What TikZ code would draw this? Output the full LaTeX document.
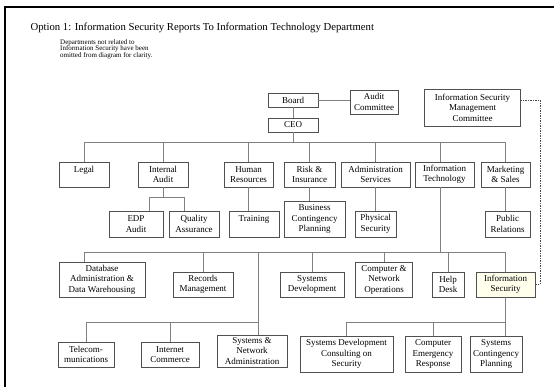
\documentclass[tikz,border=0pt]{standalone}
\usepackage{fontspec}
\setmainfont{Liberation Serif}
\definecolor{boxc}{HTML}{505050}
\definecolor{linec}{HTML}{808080}
\definecolor{cream}{HTML}{FFFFEC}
\begin{document}
\begin{tikzpicture}[x=1pt,y=-1pt,
  bx/.style={draw=boxc, line width=0.9pt, fill=white, inner sep=0pt, align=center,
    font=\fontsize{9}{10.5}\selectfont},
  ln/.style={draw=linec, line width=0.9pt},
  dln/.style={draw=black!70, line width=0.6pt, dash pattern=on 1.5pt off 1pt}]
\useasboundingbox (0,0) rectangle (554,387);
\fill[white] (0,0) rectangle (554,387);
\draw[line width=2pt] (5,388) -- (5,7) -- (555,7);

\node[anchor=base west, font=\fontsize{10.7}{12}\selectfont] (title) at (27,31)
  {Option 1: Information Security Reports To Information Technology Department};
\node[anchor=north west, align=left, inner sep=0pt, font=\fontsize{7}{6.9}\selectfont] (note) at (60,39)
  {Departments not related to\\Information Security have been\\omitted from diagram for clarity.};

% top level
\node[bx, minimum width=50, minimum height=14] (board) at (293,100) {Board};
\node[bx, minimum width=48, minimum height=24] (audit) at (374,102) {Audit\\Committee};
\node[bx, minimum width=50, minimum height=14] (ceo) at (293,125) {CEO};
\node[bx, minimum width=96, minimum height=37] (ismc) at (472.5,107.5) {Information Security\\Management\\Committee};

% row 1
\node[bx, minimum width=50, minimum height=25] (legal) at (84,174.5) {Legal\\~};
\node[bx, minimum width=50, minimum height=25] (ia) at (163,174.5) {Internal\\Audit};
\node[bx, minimum width=49, minimum height=25] (hr) at (248.5,174.5) {Human\\Resources};
\node[bx, minimum width=51, minimum height=25] (risk) at (309.5,174.5) {Risk \&\\Insurance};
\node[bx, minimum width=69, minimum height=25] (admin) at (375.5,174.5) {Administration\\Services};
\node[bx, minimum width=59, minimum height=25] (it) at (444.5,174.5) {Information\\Technology};
\node[bx, minimum width=49, minimum height=25] (mkt) at (505.5,174.5) {Marketing\\\& Sales};

% row 2
\node[bx, minimum width=54, minimum height=26] (edp) at (136,224) {EDP\\Audit};
\node[bx, minimum width=50, minimum height=26] (qa) at (194,224) {Quality\\Assurance};
\node[bx, minimum width=50, minimum height=26] (train) at (254,224) {Training\\~};
\node[bx, minimum width=61, minimum height=36] (bcp) at (314.5,219) {Business\\Contingency\\Planning};
\node[bx, minimum width=41, minimum height=26] (ps) at (375.5,224) {Physical\\Security};
\node[bx, minimum width=45, minimum height=26] (pr) at (507.5,224) {Public\\Relations};

% row 3
\node[bx, minimum width=86, minimum height=35] (db) at (102,279.5) {Database\\Administration \&\\Data Warehousing};
\node[bx, minimum width=60, minimum height=25] (rm) at (203,284.5) {Records\\Management};
\node[bx, minimum width=64, minimum height=25] (sd) at (312,284.5) {Systems\\Development};
\node[bx, minimum width=57, minimum height=35] (cno) at (384,279.5) {Computer \&\\Network\\Operations};
\node[bx, minimum width=32, minimum height=25] (hd) at (448,284.5) {Help\\Desk};
\node[bx, minimum width=59, minimum height=25, fill=cream] (isec) at (505.5,284.5) {Information\\Security};

% row 4
\node[bx, minimum width=56, minimum height=25] (tel) at (86,354.5) {Telecom-\\munications};
\node[bx, minimum width=58, minimum height=25] (ic) at (170,354.5) {Internet\\Commerce};
\node[bx, minimum width=70, minimum height=32] (sna) at (252,351) {Systems \&\\Network\\Administration};
\node[bx, minimum width=93, minimum height=36] (sdcs) at (346.5,354) {Systems Development\\Consulting on\\Security};
\node[bx, minimum width=56, minimum height=36] (cer) at (433,354) {Computer\\Emergency\\Response};
\node[bx, minimum width=52, minimum height=36] (scp) at (496,354) {Systems\\Contingency\\Planning};

% bus coordinates
\coordinate (b1) at (0,142);
\coordinate (b2) at (0,197);
\coordinate (b3) at (0,252);
\coordinate (b4) at (0,322);
\coordinate (dx) at (540,100);

% board / audit / ceo
\draw[ln] (board.east) -- (audit.west |- board.east);
\draw[ln] (board.south) -- (ceo.north);
% bus 1
\draw[ln] (ceo.south) -- (ceo.south |- b1);
\draw[ln] (legal.north) -- (legal.north |- b1) -- (mkt.north |- b1) -- (mkt.north);
\foreach \n in {ia,hr,risk,admin} \draw[ln] (\n.north) -- (\n.north |- b1);
\draw[ln] ([xshift=-4.5]it.north) -- ([xshift=-4.5]it.north |- b1);
% internal audit children
\draw[ln] (ia.south) -- (ia.south |- b2);
\draw[ln] ([xshift=13]edp.north) -- ([xshift=13]edp.north |- b2) -- ([xshift=-10]qa.north |- b2) -- ([xshift=-10]qa.north);
\draw[ln] (hr.south) -- (hr.south |- train.north);
\draw[ln] (risk.south) -- (risk.south |- bcp.north);
\draw[ln] (admin.south) -- (admin.south |- ps.north);
\draw[ln] (mkt.south) -- (mkt.south |- pr.north);
% IT bus
\draw[ln] ([xshift=-4.5]it.south) -- ([xshift=-4.5]it.south |- b3);
\draw[ln] ([xshift=-18]db.north) -- ([xshift=-18]db.north |- b3) -- (isec.north |- b3) -- (isec.north);
\foreach \n in {rm,sd,cno,hd} \draw[ln] (\n.north) -- (\n.north |- b3);
\draw[ln] ([xshift=6]sna.north |- b3) -- ([xshift=6]sna.north);
\draw[ln] (tel.north) -- (tel.north |- b4) -- ([xshift=6]sna.north |- b4);
\draw[ln] (ic.north) -- (ic.north |- b4);
% infosec children
\draw[ln] (isec.south) -- (isec.south |- scp.north);
\draw[ln] (sdcs.north) -- (sdcs.north |- b4) -- (isec.south |- b4);
\draw[ln] (cer.north) -- (cer.north |- b4);
% dashed link
\draw[dln] (isec.east) -- (isec.east -| dx) -- (dx) -- (ismc.east |- dx);
\end{tikzpicture}
\end{document}
